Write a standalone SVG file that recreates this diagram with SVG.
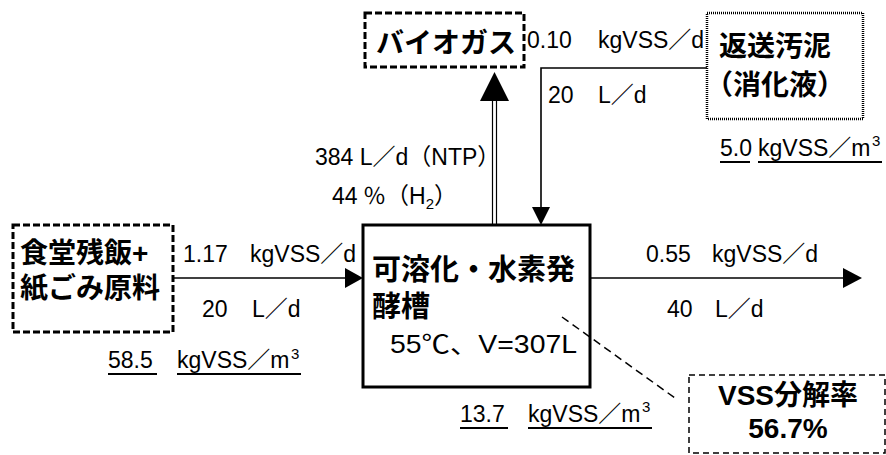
<svg xmlns="http://www.w3.org/2000/svg" width="886" height="455" viewBox="0 0 886 455">
<style>
text{font-family:"Liberation Sans","Noto Sans CJK JP",sans-serif;fill:#000}
.t{font-size:23px}
.b{font-size:28px;font-weight:bold}
.sup{font-size:15px}
.ln{stroke:#000;stroke-width:1.6;fill:none}
.ul{stroke:#000;stroke-width:2}
.dash1{fill:#fff;stroke:#000;stroke-width:3;stroke-dasharray:7 3}
.dot{fill:#fff;stroke:#000;stroke-width:2.5;stroke-dasharray:1 1}
.dash2{fill:#fff;stroke:#000;stroke-width:1.5;stroke-dasharray:6 4}
</style>
<rect width="886" height="455" fill="#fff"/>
<g id="connectors">
  <line class="ln" x1="173" y1="278" x2="346" y2="278"/>
  <polygon points="345,268 363,278 345,288" fill="#000"/>
  <line class="ln" x1="590" y1="278" x2="844" y2="278"/>
  <polygon points="843,268 862,278 843,288" fill="#000"/>
  <line stroke="#000" stroke-width="1.2" x1="492.5" y1="100" x2="492.5" y2="225"/>
  <line stroke="#000" stroke-width="1.2" x1="496.5" y1="100" x2="496.5" y2="225"/>
  <polygon points="480,101 494.5,72 509,101" fill="#000"/>
  <polyline class="ln" points="707,68 541,68 541,208"/>
  <polygon points="532,207 550,207 541,225" fill="#000"/>
  <line stroke="#000" stroke-width="1.5" stroke-dasharray="8 5" x1="562" y1="317" x2="675" y2="398"/>
</g>
<g id="feed">
  <rect class="dash1" x="13" y="225" width="160" height="107"/>
  <text class="b" x="20" y="263">食堂残飯+</text>
  <text class="b" x="20" y="298">紙ごみ原料</text>
</g>
<g id="reactor">
  <rect x="363" y="225" width="227" height="162" fill="none" stroke="#000" stroke-width="3"/>
  <text class="b" x="372" y="280" style="font-size:29px">可溶化・水素発</text>
  <text class="b" x="372" y="317" style="font-size:29px">酵槽</text>
  <text class="t" x="390" y="353" style="font-size:25px" textLength="187" lengthAdjust="spacingAndGlyphs">55℃、V=307L</text>
</g>
<g id="biogas">
  <rect class="dash1" x="365" y="13" width="159" height="54"/>
  <text class="b" x="376" y="53">バイオガス</text>
</g>
<g id="return-sludge">
  <rect class="dot" x="707" y="13" width="156" height="106"/>
  <text class="b" x="775" y="56" text-anchor="middle">返送汚泥</text>
  <text class="b" x="775" y="95" text-anchor="middle">（消化液）</text>
</g>
<g id="vss-rate">
  <rect class="dash2" x="689" y="375" width="196" height="78"/>
  <text class="b" x="788" y="405" text-anchor="middle">VSS分解率</text>
  <text class="b" x="788" y="438" text-anchor="middle">56.7%</text>
</g>
<g id="labels">
  <text class="t" x="527" y="48">0.10 <tspan x="598">kgVSS／d</tspan></text>
  <text class="t" x="548" y="103">20 <tspan x="598">L／d</tspan></text>
  <text class="t" x="315" y="165">384 L／d（NTP）</text>
  <text class="t" x="332" y="204">44 <tspan x="363">％（H<tspan style="font-size:15px" dy="5">2</tspan><tspan dy="-5">）</tspan></tspan></text>
  <text class="t" x="183" y="262">1.17 <tspan x="250">kgVSS／d</tspan></text>
  <text class="t" x="202" y="317">20 <tspan x="252">L／d</tspan></text>
  <text class="t" x="646" y="262">0.55 <tspan x="712">kgVSS／d</tspan></text>
  <text class="t" x="667" y="317">40 <tspan x="715">L／d</tspan></text>
  <text class="t" x="108" y="368">58.5 <tspan x="177">kgVSS／m</tspan><tspan class="sup" x="291" y="359">3</tspan></text>
  <line class="ul" x1="108" y1="374" x2="157" y2="374"/>
  <line class="ul" x1="177" y1="374" x2="301" y2="374"/>
  <text class="t" x="460" y="422">13.7 <tspan x="528">kgVSS／m</tspan><tspan class="sup" x="642" y="412">3</tspan></text>
  <line class="ul" x1="460" y1="428" x2="508" y2="428"/>
  <line class="ul" x1="528" y1="428" x2="652" y2="428"/>
  <text class="t" x="720" y="156">5.0 <tspan x="758">kgVSS／m</tspan><tspan class="sup" x="872" y="146">3</tspan></text>
  <line class="ul" x1="720" y1="162" x2="750" y2="162"/>
  <line class="ul" x1="758" y1="162" x2="882" y2="162"/>
</g>
</svg>
